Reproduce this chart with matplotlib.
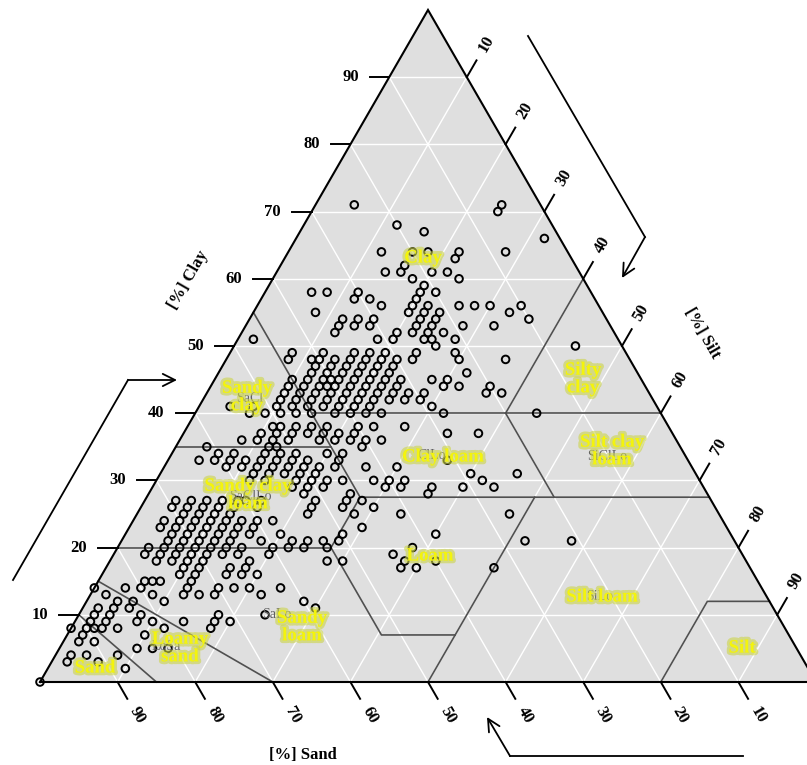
import matplotlib
matplotlib.use("Agg")
import matplotlib.pyplot as plt
import matplotlib.patheffects as pe
from matplotlib.patches import Polygon
import numpy as np

# soil samples: clay % and sand % (silt = rest)
clay_pct = [
    0, 2, 3, 3, 4, 4, 4, 5, 5, 5, 6, 6, 7, 7,
    8, 8, 8, 8, 8, 8, 8,
    9, 9, 9, 9, 9, 9, 9,
    10, 10, 10, 10, 10,
    11, 11, 11, 11,
    12, 12, 12, 12,
    13, 13, 13, 13, 13, 13,
    14, 14, 14, 14, 14, 14, 14, 14,
    15, 15, 15, 15,
    16, 16, 16, 16, 16,
    17, 17, 17, 17, 17, 17, 17,
    18, 18, 18, 18, 18, 18, 18, 18, 18,
    19, 19, 19, 19, 19, 19, 19, 19, 19,
    20, 20, 20, 20, 20, 20, 20, 20, 20, 20, 20, 20,
    21, 21, 21, 21, 21, 21, 21, 21, 21, 21, 21, 21,
    22, 22, 22, 22, 22, 22, 22, 22, 22,
    23, 23, 23, 23, 23, 23, 23, 23,
    24, 24, 24, 24, 24, 24, 24, 24,
    25, 25, 25, 25, 25, 25, 25, 25,
    26, 26, 26, 26, 26, 26, 26, 26, 26,
    27, 27, 27, 27, 27, 27, 27, 27, 27, 27,
    28, 28, 28,
    29, 29, 29, 29, 29, 29, 29, 29,
    30, 30, 30, 30, 30, 30, 30, 30, 30, 30,
    31, 31, 31, 31, 31, 31, 31,
    32, 32, 32, 32, 32, 32, 32, 32, 32, 32,
    33, 33, 33, 33, 33, 33, 33, 33, 33, 33,
    34, 34, 34, 34, 34, 34, 34,
    35, 35, 35, 35,
    36, 36, 36, 36, 36, 36, 36, 36, 36,
    37, 37, 37, 37, 37, 37, 37, 37, 37,
    38, 38, 38, 38, 38, 38, 38, 38,
    40, 40, 40, 40, 40, 40, 40, 40, 40, 40, 40,
    41, 41, 41, 41, 41, 41, 41, 41, 41, 41,
    42, 42, 42, 42, 42, 42, 42, 42, 42, 42,
    43, 43, 43, 43, 43, 43, 43, 43, 43, 43, 43, 43,
    44, 44, 44, 44, 44, 44, 44, 44, 44, 44, 44, 44,
    45, 45, 45, 45, 45, 45, 45, 45, 45, 45, 45,
    46, 46, 46, 46, 46, 46, 46,
    47, 47, 47, 47, 47, 47,
    48, 48, 48, 48, 48, 48, 48, 48, 48, 48, 48,
    49, 49, 49, 49, 49, 49, 49,
    50, 50,
    51, 51, 51, 51, 51, 51,
    52, 52, 52, 52, 52,
    53, 53, 53, 53, 53, 53, 53,
    54, 54, 54, 54, 54, 54,
    55, 55, 55, 55, 55,
    56, 56, 56, 56, 56, 56, 56,
    57, 57, 57,
    58, 58, 58, 58, 58,
    59,
    60, 60,
    61, 61, 61, 61,
    62,
    63,
    64, 64, 64, 64, 64,
    66, 67, 68, 70, 71, 71,
]
sand_pct = [
    100, 88, 95, 91, 94, 92, 88, 85, 83, 81, 92, 90, 91, 83,
    92, 90, 89, 88, 86, 80, 74,
    89, 87, 83, 81, 77, 73, 71,
    88, 86, 82, 72, 66,
    87, 85, 83, 59,
    84, 82, 78, 60,
    85, 79, 75, 73, 71, 65,
    86, 82, 80, 74, 70, 68, 66, 62,
    79, 78, 77, 73,
    74, 72, 68, 66, 64,
    73, 71, 67, 65, 45, 43, 33,
    76, 74, 72, 70, 64, 54, 52, 44, 40,
    77, 75, 73, 71, 69, 67, 65, 61, 45,
    76, 74, 72, 70, 68, 66, 64, 60, 58, 56, 53, 42,
    73, 71, 69, 67, 65, 61, 57, 55, 53, 51, 27, 21,
    72, 70, 68, 66, 64, 62, 58, 50, 38,
    73, 71, 69, 67, 65, 63, 61, 47,
    72, 70, 68, 66, 64, 62, 60, 58,
    69, 67, 65, 63, 53, 47, 41, 27,
    70, 68, 66, 64, 62, 59, 52, 48, 44,
    69, 67, 65, 63, 61, 60, 58, 51, 47, 45,
    52, 46, 36,
    53, 51, 49, 41, 39, 35, 31, 27,
    58, 56, 52, 50, 48, 46, 42, 40, 38, 28,
    57, 55, 53, 51, 49, 29, 23,
    60, 58, 56, 54, 52, 50, 48, 46, 42, 38,
    63, 61, 59, 57, 55, 53, 51, 49, 45, 31,
    60, 58, 54, 52, 50, 46, 44,
    61, 53, 52, 41,
    56, 54, 52, 50, 46, 44, 42, 40, 38,
    53, 51, 49, 47, 45, 43, 41, 29, 25,
    51, 50, 48, 46, 44, 40, 38, 34,
    53, 51, 49, 47, 45, 42, 40, 38, 36, 28, 16,
    55, 52, 49, 47, 45, 43, 41, 39, 37, 29,
    48, 46, 44, 42, 40, 38, 36, 34, 32, 30,
    47, 45, 43, 41, 39, 37, 35, 33, 31, 29, 21, 19,
    46, 44, 42, 41, 40, 38, 36, 34, 32, 26, 24, 20,
    45, 43, 41, 40, 39, 37, 35, 33, 31, 27, 25,
    42, 40, 38, 36, 34, 32, 22,
    41, 39, 37, 35, 33, 31,
    44, 41, 40, 38, 36, 34, 32, 30, 28, 22, 16,
    43, 39, 35, 33, 31, 27, 22,
    24, 6,
    47, 31, 29, 25, 24, 21,
    36, 28, 26, 24, 22,
    35, 33, 31, 25, 23, 19, 15,
    34, 32, 30, 24, 22, 10,
    37, 25, 23, 21, 12,
    28, 24, 22, 18, 16, 14, 10,
    31, 29, 23,
    36, 34, 30, 22, 20,
    21,
    22, 16,
    25, 23, 19, 17,
    22,
    15,
    24, 20, 18, 14, 8,
    2, 17, 20, 6, 24, 5,
]
assert len(clay_pct) == len(sand_pct)

tick_values = [10, 20, 30, 40, 50, 60, 70, 80, 90]

# USDA class borders as (clay, silt) polylines
borders = [
    [(0, 15), (10, 0)],
    [(0, 30), (15, 0)],
    [(0, 50), (27.5, 50)],
    [(7, 50), (7, 40.5), (20, 27.5), (27.5, 27.5), (27.5, 72.5)],
    [(20, 0), (20, 27.5)],
    [(35, 0), (35, 20)],
    [(55, 0), (27.5, 27.5)],
    [(40, 15), (40, 60)],
    [(40, 40), (60, 40)],
    [(40, 40), (27.5, 52.5)],
    [(0, 80), (12, 80), (12, 88)],
]

# yellow class names and the grey abbreviations underneath (pixel positions)
class_labels = [
    ("Clay", 423, 258), ("Silty\nclay", 583, 379), ("Silt clay\nloam", 612, 451),
    ("Clay loam", 443, 457), ("Sandy\nclay", 247, 397), ("Sandy clay\nloam", 248, 495),
    ("Loam", 430, 556), ("Silt loam", 602, 597), ("Sandy\nloam", 302, 627),
    ("Loamy\nsand", 180, 648), ("Sand", 95, 668), ("Silt", 742, 648),
]
abbrev_labels = [
    ("SaCl", 250, 399), ("SiClLo", 607, 457), ("ClLo", 432, 456), ("SaClLo", 250, 497),
    ("SaLo", 277, 614), ("LoSa", 166, 646), ("SiLo", 600, 597),
]

H = np.sqrt(3) / 2
SCALE = 7.76  # pixels per percent


def tern(clay, silt):
    clay = np.asarray(clay, dtype=float)
    silt = np.asarray(silt, dtype=float)
    return silt + clay / 2, clay * H


def px(X, Y):
    return (X - 40) / SCALE, (682 - Y) / SCALE


fig = plt.figure(figsize=(8.07, 7.65), dpi=100)
ax = fig.add_axes([0, 0, 1, 1])
ax.set_xlim(-40 / SCALE, 767 / SCALE)
ax.set_ylim(-83 / SCALE, 682 / SCALE)
ax.axis("off")

serif = "Liberation Serif"

tri = Polygon([(0, 0), (100, 0), (50, 100 * H)], closed=True,
              facecolor="#dfdfdf", edgecolor="none", zorder=0)
ax.add_patch(tri)

# white grid
for k in tick_values:
    for a, b in [((k, 0), (k, 100 - k)), ((0, k), (100 - k, k)), ((0, 100 - k), (100 - k, 0))]:
        xs, ys = tern([a[0], b[0]], [a[1], b[1]])
        ax.plot(xs, ys, color="white", lw=1.0, zorder=1)

for line in borders:
    c, s = zip(*line)
    xs, ys = tern(c, s)
    ax.plot(xs, ys, color="#505050", lw=1.2, zorder=2)

ax.plot([0, 100, 50, 0], [0, 0, 100 * H, 0], color="black", lw=1.5, zorder=3,
        solid_joinstyle="miter")

# ticks and tick labels
tl, lo = 2.5, 5.0
for k in tick_values:
    # clay (left)
    x0, y0 = tern(k, 0)
    ax.plot([x0, x0 - tl], [y0, y0], color="black", lw=1.4)
    ax.text(x0 - lo, y0, str(k), ha="center", va="center", fontsize=12,
            fontweight="bold", family=serif)
    # silt (right)
    x0, y0 = tern(100 - k, k)
    d = np.array([0.5, H])
    ax.plot([x0, x0 + tl * d[0]], [y0, y0 + tl * d[1]], color="black", lw=1.4)
    ax.text(x0 + lo * d[0], y0 + lo * d[1], str(k), ha="center", va="center",
            fontsize=12, fontweight="bold", family=serif, rotation=60)
    # sand (bottom)
    x0, y0 = tern(0, 100 - k)
    d = np.array([0.5, -H])
    ax.plot([x0, x0 + tl * d[0]], [y0, y0 + tl * d[1]], color="black", lw=1.4)
    ax.text(x0 + lo * d[0], y0 + lo * d[1], str(k), ha="center", va="center",
            fontsize=12, fontweight="bold", family=serif, rotation=-60)

# axis titles
ax.text(*px(188, 280), "[%] Clay", rotation=60, ha="center", va="center",
        fontsize=12, fontweight="bold", family=serif)
ax.text(*px(702, 333), "[%] Silt", rotation=-60, ha="center", va="center",
        fontsize=12, fontweight="bold", family=serif)
ax.text(*px(303, 755), "[%] Sand", ha="center", va="center",
        fontsize=12, fontweight="bold", family=serif)

# direction arrows
arrows = [
    [(13, 580), (128, 380), (177, 380)],
    [(528, 36), (645, 237), (622, 278)],
    [(743, 756), (510, 756), (487, 717)],
]
for path in arrows:
    pts = [px(X, Y) for X, Y in path]
    ax.plot([pts[0][0], pts[1][0]], [pts[0][1], pts[1][1]], color="black", lw=1.3)
    ax.annotate("", xy=pts[2], xytext=pts[1],
                arrowprops=dict(arrowstyle="->", lw=1.3, color="black",
                                mutation_scale=22, shrinkA=0, shrinkB=0))

# samples
silt_pct = 100 - np.asarray(clay_pct, float) - np.asarray(sand_pct, float)
xs, ys = tern(clay_pct, silt_pct)
ax.scatter(xs, ys, s=30, facecolors="none", edgecolors="black", linewidths=1.4,
           zorder=5, clip_on=False)

for txt, X, Y in abbrev_labels:
    ax.text(*px(X, Y), txt, ha="center", va="center", fontsize=10,
            color="#606060", family=serif, zorder=6)

glow = [pe.withStroke(linewidth=4, foreground="#cbd44a", alpha=0.6)]
for txt, X, Y in class_labels:
    ax.text(*px(X, Y), txt, ha="center", va="center", fontsize=13.5,
            fontweight="bold", color="#f4f40c", family=serif, linespacing=1.05,
            path_effects=glow, zorder=7)

fig.savefig("out.png", dpi=100)
